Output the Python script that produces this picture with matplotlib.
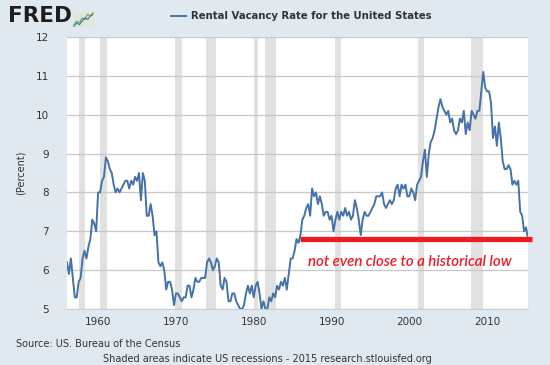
import numpy as np
import matplotlib as mpl
mpl.use('Agg')
from matplotlib import pyplot as plt

# Rental vacancy rate, quarterly, starting 1956 Q1 (percent)
start_year = 1956
vacancy = [
    6.2, 5.9, 6.3, 5.8,  5.3, 5.3, 5.7, 5.8,  6.3, 6.5, 6.3, 6.6,  6.8, 7.3, 7.2, 7.0,   # 1956-59
    8.0, 8.0, 8.3, 8.4,  8.9, 8.8, 8.6, 8.5,  8.2, 8.0, 8.1, 8.0,  8.1, 8.2, 8.3, 8.3,   # 1960-63
    8.1, 8.3, 8.2, 8.4,  8.3, 8.5, 7.8, 8.5,  8.3, 7.4, 7.4, 7.7,  7.4, 6.9, 7.0, 6.2,   # 1964-67
    6.1, 6.2, 6.0, 5.5,  5.7, 5.7, 5.5, 5.1,  5.4, 5.4, 5.3, 5.2,  5.3, 5.3, 5.6, 5.6,   # 1968-71
    5.3, 5.5, 5.8, 5.7,  5.7, 5.8, 5.8, 5.8,  6.2, 6.3, 6.2, 6.0,  6.1, 6.3, 6.2, 5.6,   # 1972-75
    5.5, 5.8, 5.7, 5.2,  5.2, 5.4, 5.4, 5.2,  5.1, 5.0, 5.0, 5.1,  5.4, 5.6, 5.4, 5.6,   # 1976-79
    5.3, 5.6, 5.7, 5.4,  5.0, 5.2, 5.0, 5.0,  5.3, 5.2, 5.4, 5.3,  5.6, 5.5, 5.7, 5.6,   # 1980-83
    5.8, 5.5, 5.9, 6.3,  6.3, 6.5, 6.8, 6.7,  6.9, 7.3, 7.4, 7.6,  7.7, 7.4, 8.1, 7.9,   # 1984-87
    8.0, 7.7, 7.9, 7.7,  7.4, 7.5, 7.5, 7.3,  7.4, 7.0, 7.3, 7.5,  7.3, 7.5, 7.4, 7.6,   # 1988-91
    7.4, 7.5, 7.3, 7.4,  7.8, 7.6, 7.3, 6.9,  7.3, 7.5, 7.4, 7.4,  7.5, 7.6, 7.7, 7.9,   # 1992-95
    7.9, 7.9, 8.0, 7.7,  7.6, 7.7, 7.8, 7.7,  7.8, 8.1, 8.2, 7.9,  8.2, 8.1, 8.2, 7.9,   # 1996-99
    7.9, 8.1, 8.0, 7.8,  8.2, 8.3, 8.4, 8.8,  9.1, 8.4, 9.0, 9.3,  9.4, 9.6, 9.9, 10.2,  # 2000-03
    10.4, 10.2, 10.1, 10.0,  10.1, 9.8, 9.9, 9.6,  9.5, 9.6, 9.9, 9.8,  10.1, 9.5, 9.8, 9.6,  # 2004-07
    10.1, 10.0, 9.9, 10.1,  10.1, 10.6, 11.1, 10.7,  10.6, 10.6, 10.3, 9.4,  9.7, 9.2, 9.8, 9.4,  # 2008-11
    8.8, 8.6, 8.6, 8.7,  8.6, 8.2, 8.3, 8.2,  8.3, 7.5, 7.4, 7.0,  7.1, 6.8,   # 2012-15
]

# NBER recessions (start, end) in decimal years
recessions = [
    (1957.58, 1958.25), (1960.25, 1961.08), (1969.92, 1970.83), (1973.83, 1975.17),
    (1980.0, 1980.5), (1981.5, 1982.83), (1990.5, 1991.17), (2001.17, 2001.83),
    (2007.92, 2009.42),
]

low_level = 6.8
low_start = 1985.9
note = 'not even close to a historical low'

years = start_year + np.arange(len(vacancy)) / 4.0

bg = '#e1e9f0'
fig = plt.figure(figsize=(5.5, 3.65), dpi=100, facecolor=bg)
ax = fig.add_axes([67 / 550, 1 - 309 / 365, 461 / 550, 272 / 365])
ax.set_facecolor('white')

for a, b in recessions:
    ax.axvspan(a, b, color='#e1e1e1', lw=0, zorder=0)

line, = ax.plot(years, vacancy, color='#4572a7', lw=1.4, zorder=3,
                label='Rental Vacancy Rate for the United States')

ax.set_xlim(years[0], years[-1])
ax.set_ylim(5, 12)
ax.set_yticks(range(5, 13))
ax.set_xticks(range(1960, 2011, 10))
ax.yaxis.grid(True, color='#c8c8c8', lw=0.9)
for g in ax.get_ygridlines():
    g.set_zorder(1)

for s in ['left', 'right', 'top']:
    ax.spines[s].set_visible(False)
ax.spines['bottom'].set_color('#c0d0e0')
ax.tick_params(axis='y', length=0, pad=13, labelsize=7.5, labelcolor='#333333')
ax.tick_params(axis='x', length=0, pad=6, labelsize=7.5, labelcolor='#333333')
ax.set_ylabel('(Percent)', fontsize=7, color='#333333', labelpad=7)

# red "low" marker and note
ax.plot([low_start, years[-1] + 0.5], [low_level, low_level], color='#ed1c24',
        lw=3.8, solid_capstyle='butt', zorder=4, clip_on=False)
ax.text(1987.0, 6.2, note, color='#ed1c24', fontsize=10.8, style='italic',
        fontweight='semibold', family='Lato', ha='left', va='center', zorder=5)

# legend / title
fig.legend(handles=[line], loc='center', bbox_to_anchor=(0.548, 0.956),
           frameon=False, handlelength=1.4, handletextpad=0.5,
           prop={'weight': 'bold', 'size': 7.3}, labelcolor='#333333')

# FRED logo
fig.text(0.014, 0.955, 'FRED', fontsize=15.5, fontweight='heavy', color='#1e1e1e',
         ha='left', va='center')
icon = fig.add_axes([73 / 550, 1 - 27 / 365, 21 / 550, 15 / 365])
icon.set_facecolor('#dfe6da')
icon_a = [1, 3, 2, 5, 4, 7, 6, 8]
icon_b = [0, 2, 1, 3, 5, 4, 6, 7]
icon.plot(icon_a, color='#6aa84f', lw=0.8)
icon.plot(icon_b, color='#4572a7', lw=0.8)
icon.set_xticks([])
icon.set_yticks([])
for s in icon.spines.values():
    s.set_visible(False)

fig.text(16 / 550, 1 - 344 / 365, 'Source: US. Bureau of the Census', fontsize=7,
         color='#333333', ha='left', va='center')
fig.text(267 / 550, 1 - 359 / 365,
         'Shaded areas indicate US recessions - 2015 research.stlouisfed.org',
         fontsize=7, color='#333333', ha='center', va='center')

fig.savefig('out.png', dpi=100, facecolor=bg)
